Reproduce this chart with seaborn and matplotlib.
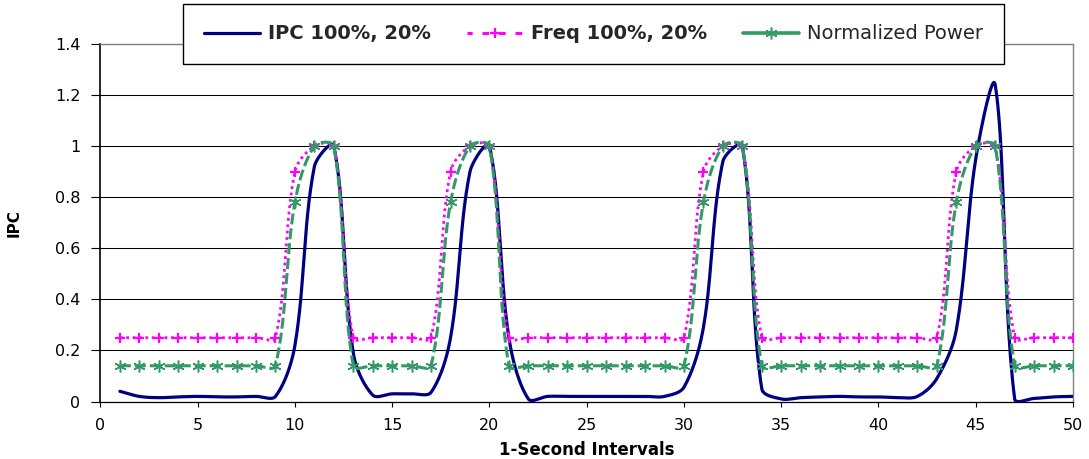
import numpy as np
import pandas as pd
import matplotlib
matplotlib.use("Agg")
import matplotlib.pyplot as plt
from matplotlib.lines import Line2D
import seaborn as sns

# ---------------- data ----------------
intervals = list(range(1, 51))

ipc = [0.04, 0.02, 0.015, 0.018, 0.02, 0.018, 0.018, 0.02, 0.02, 0.22,
       0.92, 1.0, 0.19, 0.025, 0.03, 0.03, 0.036, 0.25, 0.90, 1.0,
       0.25, 0.01, 0.02, 0.02, 0.02, 0.02, 0.02, 0.02, 0.02, 0.056,
       0.29, 0.94, 1.0, 0.05, 0.01, 0.015, 0.018, 0.02, 0.018, 0.018,
       0.015, 0.02, 0.09, 0.28, 0.95, 1.24, 0.01, 0.012, 0.018, 0.02]

freq = [0.25, 0.25, 0.25, 0.25, 0.25, 0.25, 0.25, 0.25, 0.25, 0.9,
        1.0, 1.0, 0.25, 0.25, 0.25, 0.25, 0.25, 0.9, 1.0, 1.0,
        0.25, 0.25, 0.25, 0.25, 0.25, 0.25, 0.25, 0.25, 0.25, 0.25,
        0.9, 1.0, 1.0, 0.25, 0.25, 0.25, 0.25, 0.25, 0.25, 0.25,
        0.25, 0.25, 0.25, 0.9, 1.0, 1.0, 0.25, 0.25, 0.25, 0.25]

power = [0.14, 0.14, 0.14, 0.14, 0.14, 0.14, 0.14, 0.14, 0.14, 0.78,
         1.0, 1.0, 0.14, 0.14, 0.14, 0.14, 0.14, 0.78, 1.0, 1.0,
         0.14, 0.14, 0.14, 0.14, 0.14, 0.14, 0.14, 0.14, 0.14, 0.14,
         0.78, 1.0, 1.0, 0.14, 0.14, 0.14, 0.14, 0.14, 0.14, 0.14,
         0.14, 0.14, 0.14, 0.78, 1.0, 1.0, 0.14, 0.14, 0.14, 0.14]

series_labels = ["IPC 100%, 20%", "Freq 100%, 20%", "Normalized Power"]
x_ticks = [0, 5, 10, 15, 20, 25, 30, 35, 40, 45, 50]
y_ticks = [0, 0.2, 0.4, 0.6, 0.8, 1.0, 1.2, 1.4]
y_tick_labels = ["0", "0.2", "0.4", "0.6", "0.8", "1", "1.2", "1.4"]
x_label = "1-Second Intervals"
y_label = "IPC"

X_MAX, Y_MAX = 50, 1.4

W, H = 1089, 459
ax_l, ax_r, ax_t, ax_b = 100.4, 1073.0, 44.0, 401.5
SX = (ax_r - ax_l) / X_MAX      # pixels per x unit
SY = (ax_b - ax_t) / Y_MAX      # pixels per y unit


# Excel-style "smoothed line" rendering: Bezier segments whose control
# points are computed in screen space and scaled by adjacent segment lengths.
def smooth(xv, yv, n=30):
    P = np.column_stack([np.asarray(xv, float) * SX,
                         np.asarray(yv, float) * SY])
    N = len(P)
    d = np.hypot(*np.diff(P, axis=0).T)
    t = np.linspace(0, 1, n, endpoint=False)[:, None]
    out = []
    for i in range(N - 1):
        p0, p3 = P[i], P[i + 1]
        if i == 0:
            c1 = p0 + (p3 - p0) / 3
        else:
            c1 = p0 + (P[i + 1] - P[i - 1]) * d[i] / (d[i - 1] + d[i]) / 3
        if i + 1 == N - 1:
            c2 = p3 - (p3 - p0) / 3
        else:
            c2 = p3 - (P[i + 2] - P[i]) * d[i] / (d[i] + d[i + 1]) / 3
        B = ((1 - t) ** 3) * p0 + 3 * ((1 - t) ** 2) * t * c1 \
            + 3 * (1 - t) * (t ** 2) * c2 + (t ** 3) * p3
        out.append(B)
    out.append(P[-1:])
    Q = np.vstack(out)
    return Q[:, 0] / SX, Q[:, 1] / SY


sns.set_theme(style="white")
plt.rcParams["font.family"] = ["DejaVu Sans"]

fig = plt.figure(figsize=(W / 100, H / 100), dpi=100)
ax = fig.add_axes([ax_l / W, 1 - ax_b / H, (ax_r - ax_l) / W, (ax_b - ax_t) / H])

c_ipc = "#000080"
c_freq = "#FF00FF"
c_pow = "#339966"

xi, yi = smooth(intervals, ipc)
xf, yf = smooth(intervals, freq)
xp, yp = smooth(intervals, power)
curves = pd.DataFrame({"x_ipc": xi, "ipc": yi, "x_freq": xf, "freq": yf,
                       "x_pow": xp, "pow": yp})
pts = pd.DataFrame({"x": intervals, "freq": freq, "power": power})

sns.lineplot(data=curves, x="x_ipc", y="ipc", ax=ax, color=c_ipc, lw=2.3,
             sort=False, estimator=None, zorder=3)
sns.lineplot(data=curves, x="x_freq", y="freq", ax=ax, color=c_freq, lw=2.0,
             linestyle=(0, (1.0, 1.3)), sort=False, estimator=None, zorder=4)
ax.plot(pts["x"], pts["freq"], ls="none", marker="+", ms=7.5, mew=1.6,
        color=c_freq, zorder=4)
sns.lineplot(data=curves, x="x_pow", y="pow", ax=ax, color=c_pow, lw=2.2,
             linestyle=(0, (3.6, 1.3)), sort=False, estimator=None, zorder=5)
ax.plot(pts["x"], pts["power"], ls="none", marker=(6, 2, 0), ms=8.5, mew=1.1,
        color=c_pow, zorder=5)

ax.set_xlim(0, X_MAX)
ax.set_ylim(0, Y_MAX)
ax.set_xticks(x_ticks)
ax.set_xticklabels([str(v) for v in x_ticks])
ax.set_yticks(y_ticks)
ax.set_yticklabels(y_tick_labels)

ax.yaxis.grid(True, color="black", lw=0.75)
ax.xaxis.grid(False)
ax.set_axisbelow(True)

for side in ["top", "right"]:
    ax.spines[side].set_color("#808080")
    ax.spines[side].set_linewidth(1.0)
ax.spines["left"].set_color("black")
ax.spines["left"].set_linewidth(1.2)
ax.spines["bottom"].set_color("black")
ax.spines["bottom"].set_linewidth(0.9)

ax.tick_params(axis="x", direction="out", length=3.6, width=0.8, pad=8,
               labelsize=11.5, colors="black", bottom=True)
ax.tick_params(axis="y", direction="out", length=6.5, width=0.8, pad=8,
               labelsize=11.5, colors="black", left=True)

ax.set_xlabel(x_label, fontsize=12, fontweight="bold", color="black")
ax.xaxis.set_label_coords(0.5, -0.11)
ax.set_ylabel(y_label, fontsize=11, fontweight="bold", color="black")
ax.yaxis.set_label_coords(-0.081, 0.5)

handles = [
    Line2D([], [], color=c_ipc, lw=2.3),
    Line2D([], [], color=c_freq, lw=2.2, linestyle=(0.5, (2.2, 3.2)),
           marker="+", ms=7.5, mew=1.6),
    Line2D([], [], color=c_pow, lw=2.6, marker=(6, 2, 0), ms=8.5, mew=1.1),
]
leg = fig.legend(handles, series_labels, loc="upper center",
                 bbox_to_anchor=(593.5 / W, 1 - 4 / H), ncol=3,
                 frameon=True, fancybox=False, framealpha=1,
                 edgecolor="black", fontsize=14, handlelength=2.9,
                 handletextpad=0.4, columnspacing=1.85, borderpad=1.05,
                 borderaxespad=0)
leg.get_frame().set_linewidth(1.0)
texts = leg.get_texts()
texts[0].set_fontweight("bold")
texts[1].set_fontweight("bold")

fig.savefig("out.png", dpi=100)
